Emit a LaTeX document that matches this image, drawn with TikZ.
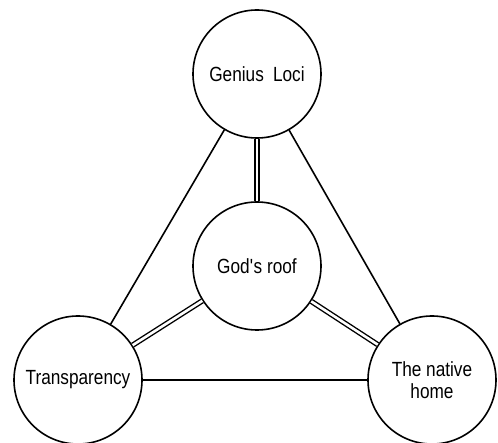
\documentclass[tikz,border=0pt]{standalone}
\usepackage{fontspec}
\setmainfont{Liberation Sans}[FakeStretch=0.84]
\tikzset{
  idea/.style = {circle, draw, line width=1.6pt, minimum size=128pt, inner sep=0pt,
    align=center, font=\fontsize{20.5}{22}\selectfont},
  link/.style = {line width=1.6pt},
  bond/.style = {line width=1.4pt, double, double distance=2.6pt}
}

\begin{document}
\begin{tikzpicture}[x=1pt,y=1pt]
  \useasboundingbox (0,0) rectangle (498,442);
  \node[idea] (loci) at (257,368) {Genius\hspace{0.45em}Loci};
  \node[idea] (roof) at (257,176) {God\textquotesingle s roof};
  \node[idea] (trans) at (78,62) {Transparency};
  \node[idea] (home) at (432,62) {The native\\home};
  % outer triangle
  \draw[link] (loci) -- (trans);
  \draw[link] (loci) -- (home);
  \draw[link] (trans) -- (home);
  % spokes to the centre
  \draw[bond] (roof) -- (loci);
  \draw[bond] (roof) -- (trans);
  \draw[bond] (roof) -- (home);
\end{tikzpicture}
\end{document}
